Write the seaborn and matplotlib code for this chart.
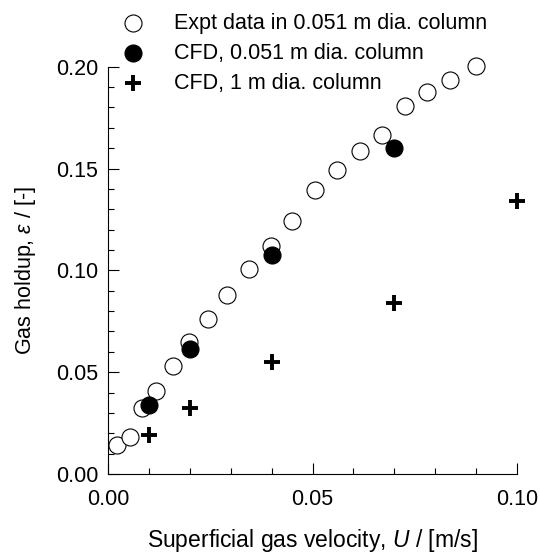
import numpy as np
import pandas as pd
import matplotlib
matplotlib.use("Agg")
import matplotlib.pyplot as plt
from matplotlib.ticker import MultipleLocator
import seaborn as sns

# Experimental data, 0.051 m column
expt_u = [0.0021, 0.0053, 0.0084, 0.0118, 0.0159, 0.0198, 0.0245, 0.0291, 0.0345, 0.0399,
          0.0450, 0.0506, 0.0561, 0.0616, 0.0671, 0.0726, 0.0781, 0.0835, 0.0899]
expt_eps = [0.0143, 0.0184, 0.0325, 0.0407, 0.0532, 0.0646, 0.0760, 0.0877, 0.1006, 0.1120,
            0.1244, 0.1397, 0.1492, 0.1585, 0.1666, 0.1808, 0.1878, 0.1935, 0.2003]

# CFD, 0.051 m column
cfd_small_u = [0.01, 0.02, 0.04, 0.07]
cfd_small_eps = [0.0338, 0.0614, 0.1076, 0.1603]

# CFD, 1 m column
cfd_big_u = [0.01, 0.02, 0.04, 0.07, 0.10]
cfd_big_eps = [0.0192, 0.0322, 0.0549, 0.0841, 0.1341]

labels = ["Expt data in 0.051 m dia. column", "CFD, 0.051 m dia. column", "CFD, 1 m dia. column"]

sns.set_style("ticks")
plt.rcParams["font.family"] = ["Liberation Sans", "DejaVu Sans"]
plt.rcParams["mathtext.fontset"] = "custom"
plt.rcParams["mathtext.rm"] = "Liberation Sans"
plt.rcParams["mathtext.it"] = "Liberation Sans:italic"
plt.rcParams["text.color"] = "black"
plt.rcParams["axes.labelcolor"] = "black"

fs = 15.5

fig = plt.figure(figsize=(5.4, 5.55), dpi=100)
ax = fig.add_axes([108 / 540, 1 - 474 / 555, 409 / 540, 407.3 / 555])

df_expt = pd.DataFrame({"u": expt_u, "eps": expt_eps})
df_small = pd.DataFrame({"u": cfd_small_u, "eps": cfd_small_eps})
df_big = pd.DataFrame({"u": cfd_big_u, "eps": cfd_big_eps})

sns.scatterplot(data=df_expt, x="u", y="eps", ax=ax, marker="o", s=150,
                facecolor="white", edgecolor="black", linewidth=0.8,
                label=labels[0], clip_on=False, zorder=3)
sns.scatterplot(data=df_small, x="u", y="eps", ax=ax, marker="o", s=150,
                color="black", edgecolor="black", linewidth=0.8,
                label=labels[1], clip_on=False, zorder=4)
sns.scatterplot(data=df_big, x="u", y="eps", ax=ax, marker="+", s=130,
                color="black", linewidth=2.8,
                label=labels[2], clip_on=False, zorder=4)

ax.set_xlim(0, 0.10)
ax.set_ylim(0, 0.20)
ax.xaxis.set_major_locator(MultipleLocator(0.05))
ax.xaxis.set_minor_locator(MultipleLocator(0.01))
ax.yaxis.set_major_locator(MultipleLocator(0.05))
ax.yaxis.set_minor_locator(MultipleLocator(0.01))
ax.xaxis.set_major_formatter(plt.FormatStrFormatter("%.2f"))
ax.yaxis.set_major_formatter(plt.FormatStrFormatter("%.2f"))
ax.tick_params(which="major", direction="in", length=8, width=0.8, labelsize=fs, colors="black")
ax.tick_params(axis="x", which="major", pad=11)
ax.tick_params(axis="y", which="major", pad=7)
ax.tick_params(which="minor", direction="in", length=4.5, width=0.8, colors="black")
sns.despine(ax=ax)
for sp in ["left", "bottom"]:
    ax.spines[sp].set_linewidth(0.8)
    ax.spines[sp].set_color("black")

ax.set_xlabel("Superficial gas velocity, $U$ / [m/s]", fontsize=16.5, color="black")
ax.set_ylabel("Gas holdup, $\\varepsilon$ / [-]", fontsize=fs, color="black")
ax.xaxis.set_label_coords(0.5, -0.13)
ax.yaxis.set_label_coords(-0.17, 0.5)

leg = ax.legend(loc="upper left", bbox_to_anchor=(122 / 540, 1 - 13 / 555),
                bbox_transform=fig.transFigure, frameon=False, fontsize=fs,
                handlelength=1.0, handletextpad=1.4, labelspacing=0.41,
                borderpad=0, borderaxespad=0)
for t in leg.get_texts():
    t.set_color("black")

fig.savefig("out.png", dpi=100, facecolor="white")
